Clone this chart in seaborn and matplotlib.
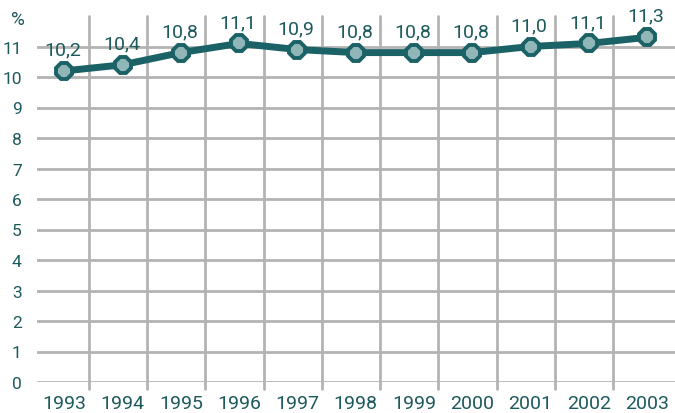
import matplotlib.pyplot as plt
import numpy as np
import pandas as pd
import seaborn as sns

years = ["1993", "1994", "1995", "1996", "1997", "1998", "1999", "2000", "2001", "2002", "2003"]
values = [10.2, 10.4, 10.8, 11.1, 10.9, 10.8, 10.8, 10.8, 11.0, 11.1, 11.3]
labels = ["10,2", "10,4", "10,8", "11,1", "10,9", "10,8", "10,8", "10,8", "11,0", "11,1", "11,3"]
yticks = list(range(0, 12))

TEXT = "#1d5a5c"
LINE = "#1b6266"
FILL = "#91b6b8"
GRID = "#b3b3b3"

sns.set_style("white")
plt.rcParams["font.family"] = ["Roboto", "DejaVu Sans"]

df = pd.DataFrame({"x": np.arange(len(years)), "value": values})

fig = plt.figure(figsize=(6.75, 4.14), dpi=100)
ax = fig.add_axes([37 / 675, 1 - 383 / 414, 1 - 37 / 675, (383 - 17) / 414])

for y in yticks:
    ax.axhline(y, color=GRID, lw=2, zorder=0)
for i in range(len(years) - 1):
    ax.axvline(i + 0.42, ymin=-0.02, ymax=1, color=GRID, lw=2, zorder=0, clip_on=False)

sns.lineplot(data=df, x="x", y="value", ax=ax, color=LINE, lw=5,
             marker="8", markersize=12.5, markerfacecolor=FILL,
             markeredgecolor=LINE, markeredgewidth=2.8, zorder=3)

for i, (v, lab) in enumerate(zip(values, labels)):
    ax.annotate(lab, (i, v), xytext=(-1, 9), textcoords="offset points",
                ha="center", va="bottom", fontsize=14, color=TEXT)

ax.set_xlim(-0.47, 10.48)
ax.set_ylim(0, 12)
ax.set_yticks(yticks)
ax.set_yticklabels([str(t) for t in yticks], fontsize=12.5, color=TEXT)
ax.set_xticks(range(len(years)))
ax.set_xticklabels(years, fontsize=14, color=TEXT)
ax.tick_params(axis="x", length=0, pad=9)
ax.tick_params(axis="y", length=0, pad=11)
ax.set_xlabel("")
ax.set_ylabel("")
for s in ax.spines.values():
    s.set_visible(False)

fig.text(18 / 675, 1 - 20 / 414, "%", fontsize=13.5, color=TEXT, ha="center", va="center")

fig.savefig("out.png", dpi=100)
